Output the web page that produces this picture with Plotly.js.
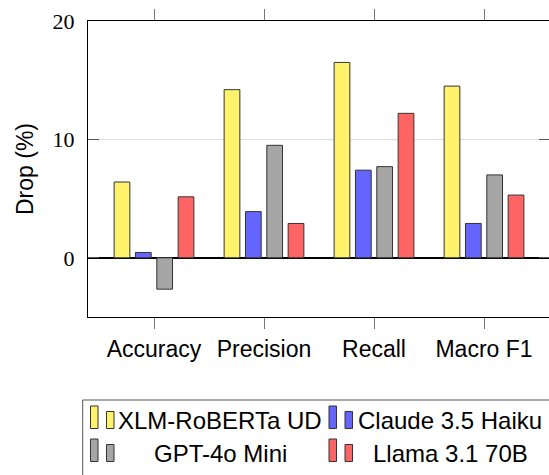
<!DOCTYPE html>
<html>
<head>
<meta charset="utf-8">
<script src="https://cdn.plot.ly/plotly-3.0.1.min.js"></script>
<style>
html,body{margin:0;padding:0;overflow:hidden;background:#fff;}
#chart{width:549px;height:475px;}
</style>
</head>
<body>
<div id="chart"></div>
<script>
const categories = ["Accuracy", "Precision", "Recall", "Macro F1"];
const seriesNames = ["XLM-RoBERTa UD", "Claude 3.5 Haiku", "GPT-4o Mini", "Llama 3.1 70B"];
const xlmValues = [6.4, 14.2, 16.5, 14.5];
const claudeValues = [0.45, 3.9, 7.4, 2.9];
const gptValues = [-2.65, 9.5, 7.7, 7.0];
const llamaValues = [5.15, 2.9, 12.2, 5.3];
const seriesColors = ["#fff36b", "#6464ff", "#a6a6a6", "#ff6464"];
const yTicks = [0, 10, 20];

const seriesValues = [xlmValues, claudeValues, gptValues, llamaValues];

const traces = seriesNames.map((name, i) => ({
  type: "bar",
  name: name,
  x: categories,
  y: seriesValues[i],
  marker: {color: seriesColors[i], line: {color: "#333333", width: 1}},
  showlegend: false
}));

// layout geometry (pixels)
const W = 550, H = 475;
const L = 88, R = 0, T = 21, B = 158;
const pw = W - L - R, ph = H - T - B;
const px = v => (v - L) / pw;
const py = v => (H - B - v) / ph;

// custom legend (pgfplots-style double bar icons)
const shapes = [];
const annotations = [];
shapes.push({type: "rect", xref: "paper", yref: "paper",
  x0: px(82.7), x1: px(600), y0: py(400), y1: py(520),
  line: {color: "#555555", width: 1}, fillcolor: "rgba(0,0,0,0)"});
const colIconX = [90.5, 329];
const colTextX = [220, 450];
const rowTop = [406, 439];
const rowText = [420.5, 454];
seriesNames.forEach((name, i) => {
  const col = i % 2, row = Math.floor(i / 2);
  const x0 = colIconX[col];
  const top = rowTop[row];
  const bottom = top + 22.5;
  shapes.push({type: "rect", xref: "paper", yref: "paper",
    x0: px(x0), x1: px(x0 + 7.5), y0: py(bottom), y1: py(top),
    fillcolor: seriesColors[i], line: {color: "#333333", width: 1}});
  shapes.push({type: "rect", xref: "paper", yref: "paper",
    x0: px(x0 + 16), x1: px(x0 + 23.5), y0: py(bottom), y1: py(top + 5.5),
    fillcolor: seriesColors[i], line: {color: "#333333", width: 1}});
  annotations.push({xref: "paper", yref: "paper", x: px(colTextX[col]), y: py(rowText[row]),
    xanchor: "center", yanchor: "middle", showarrow: false, text: name,
    font: {family: "Liberation Sans, Arial, sans-serif", size: 24, color: "#000"}});
});

const layout = {
  width: W, height: H,
  margin: {l: L, r: R, t: T, b: B, pad: 0},
  paper_bgcolor: "#fff", plot_bgcolor: "#fff",
  barmode: "group", bargap: 0.224, bargroupgap: 0.263,
  showlegend: false,
  font: {family: "Liberation Sans, Arial, sans-serif", size: 23, color: "#000"},
  xaxis: {
    type: "category", range: [-0.6, 3.6],
    showline: true, linecolor: "#000", linewidth: 1, mirror: "allticks",
    ticks: "outside", ticklen: 11, tickcolor: "#777", tickwidth: 1,
    showgrid: false, zeroline: false,
    tickfont: {family: "Liberation Sans, Arial, sans-serif", size: 23, color: "#000"},
    automargin: false
  },
  yaxis: {
    range: [-5, 20], tickvals: yTicks, ticktext: yTicks.map(String),
    showline: true, linecolor: "#000", linewidth: 1, mirror: "allticks",
    ticks: "inside", ticklen: 11, tickcolor: "#555", tickwidth: 1,
    showgrid: true, gridcolor: "#dedede", gridwidth: 1,
    zeroline: true, zerolinecolor: "#000", zerolinewidth: 2,
    tickfont: {family: "Liberation Serif, Times New Roman, serif", size: 22, color: "#000"},
    ticklabelstandoff: 8,
    title: {text: "Drop (%)", standoff: 12, font: {family: "Liberation Sans, Arial, sans-serif", size: 23, color: "#000"}},
    automargin: false
  },
  shapes: shapes,
  annotations: annotations
};

Plotly.newPlot("chart", traces, layout, {displayModeBar: false, staticPlot: true});
</script>
</body>
</html>
